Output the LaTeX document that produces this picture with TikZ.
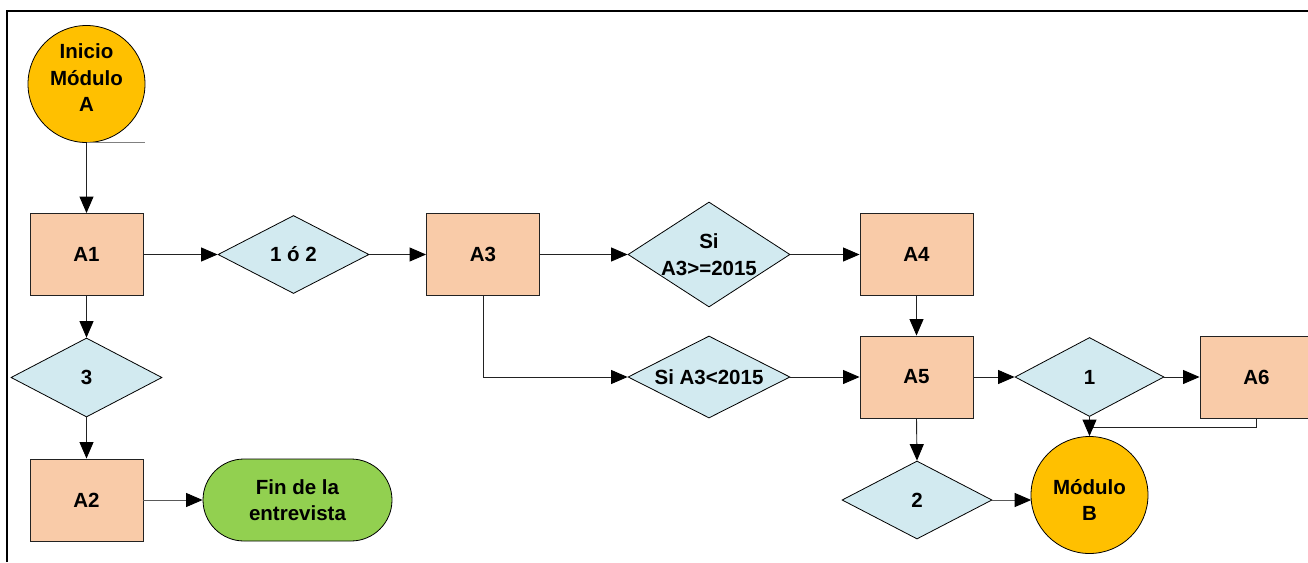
\documentclass[tikz,border=0pt]{standalone}
\usepackage{fontspec}
\setmainfont{Liberation Sans}
\usetikzlibrary{shapes.geometric,arrows.meta}
\definecolor{peach}{HTML}{F9CBA8}
\definecolor{dia}{HTML}{D2EAF0}
\definecolor{orng}{HTML}{FFC000}
\definecolor{grn}{HTML}{92D050}
\definecolor{ln}{HTML}{222222}
\tikzset{
  txt/.style={font=\fontsize{20.5}{26.5}\selectfont\bfseries, align=center, text=black},
  box/.style={txt, draw=ln, line width=0.9pt, fill=peach, minimum width=113pt, minimum height=82pt, inner sep=0pt},
  dec/.style={txt, draw=black, line width=0.8pt, fill=dia, diamond, inner sep=0pt},
  term/.style={txt, draw=black, line width=0.8pt, fill=orng, circle, minimum size=117pt, inner sep=0pt},
  fin/.style={txt, draw=black, line width=0.8pt, fill=grn, rounded corners=41pt, minimum width=189pt, minimum height=82pt, inner sep=0pt},
  conn/.style={draw=ln, line width=0.9pt, -{Triangle[length=16.5pt,width=14pt,black]}},
}
\begin{document}
\begin{tikzpicture}[x=1pt,y=-1pt]
\useasboundingbox (0,0) rectangle (1308,562);
\fill[white] (0,0) rectangle (1308,562);
% frame
\draw[line width=2pt, black] (7,562) -- (7,11) -- (1310,11);

% nodes
\node[term] (ini) at (86.5,84) {};
\node[txt] (initxt) at (86.5,78) {Inicio\\Módulo\\A};
\coordinate (stray) at (145,143);
\node[box] (A1) at (86.5,254.5) {A1};
\node[dec, minimum width=151pt, minimum height=78pt, aspect=1.94] (d12) at (293.5,254.5) {1 ó 2};
\node[box] (A3) at (483,254.5) {A3};
\node[dec, minimum width=162pt, minimum height=105pt, aspect=1.54] (dge) at (709,254.5) {Si\\A3>=2015};
\node[box] (A4) at (916.5,254.5) {A4};
\node[dec, minimum width=151pt, minimum height=79pt, aspect=1.91] (d3) at (86.5,377.5) {3};
\node[dec, minimum width=162pt, minimum height=82pt, aspect=1.98] (dlt) at (709,377) {Si A3<2015};
\node[box] (A5) at (916.5,377) {A5};
\node[dec, minimum width=149pt, minimum height=79pt, aspect=1.89] (d1) at (1089.5,377) {1};
\node[box] (A6) at (1256.5,377) {A6};
\node[box] (A2) at (86.5,500) {A2};
\node[fin] (fin) at (297.5,500) {Fin de la\\entrevista};
\node[dec, minimum width=150pt, minimum height=78pt, aspect=1.92] (d2) at (917,500) {2};
\node[term] (modB) at (1089.5,495) {};
\node[txt] (modBtxt) at (1089.5,500) {Módulo\\B};
\coordinate (j6) at (1089.5,427);
\coordinate (bIn) at (1031.2,500);

% connectors
\draw[draw=gray, line width=0.9pt] (ini.south) -- (ini.south -| stray);
\draw[conn] (ini.south) -- (A1.north);
\draw[conn] (A1.east) -- (d12.west);
\draw[conn] (d12.east) -- (A3.west);
\draw[conn] (A3.east) -- (dge.west);
\draw[conn] (dge.east) -- (A4.west);
\draw[conn] (A1.south) -- (d3.north);
\draw[conn] (d3.south) -- (A2.north);
\draw[conn, draw=gray!70!black] (A2.east) -- (fin.west);
\draw[conn] (A3.south) |- (dlt.west);
\draw[conn] (dlt.east) -- (A5.west);
\draw[conn] (A4.south) -- (A5.north);
\draw[conn] (A5.east) -- (d1.west);
\draw[conn] (d1.east) -- (A6.west);
\draw[conn] (A5.south) -- (d2.north);
\draw[conn, draw=gray!70!black] (d2.east) -- (bIn);
\draw[draw=ln, line width=0.9pt] (A6.south) |- (j6);
\draw[conn] (d1.south) -- (modB.north);
\end{tikzpicture}
\end{document}
